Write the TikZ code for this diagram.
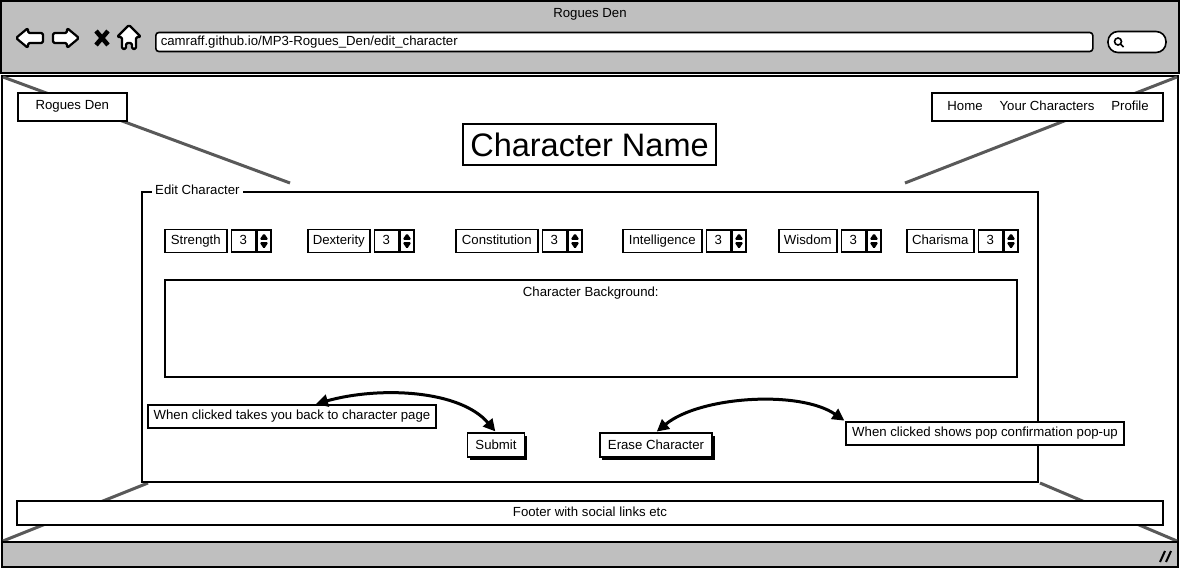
\documentclass[tikz,border=0pt]{standalone}
\usepackage{fontspec}
\setmainfont{Liberation Sans}
\usetikzlibrary{positioning,arrows.meta,shadows}

\begin{document}
\begin{tikzpicture} [
	x=1pt,y=-1pt,
	node distance=3pt,
	font=\fontsize{13.2}{16}\selectfont,
	bar/.style={
		draw=black,fill=black!25,line width=1.6pt},
	frame/.style={
		draw=black,line width=1.8pt},
	persp/.style={
		draw=black!65,line width=3pt},
	icon/.style={
		draw=black,fill=white,line width=2.2pt,
		rounded corners=1.5pt,line join=round},
	navbox/.style={
		rectangle,draw=black,fill=white,line width=1.6pt,
		minimum height=28pt},
	statbox/.style={
		rectangle,draw=black,fill=white,line width=1.6pt,
		minimum height=23pt,inner xsep=3pt,
		text height=9.5pt,text depth=3pt},
	numbox/.style={
		rectangle,draw=black,fill=white,line width=1.6pt,
		minimum height=22pt,minimum width=24pt,
		text height=9.5pt,text depth=3pt},
	spin/.style={
		rectangle,draw=black,fill=white,line width=1.6pt,
		minimum height=22pt,minimum width=14pt,
		path picture={
			\fill[black,shift={(path picture bounding box.center)},
				rounded corners=1.5pt]
				(-4.5,-1.2) -- (0,-8) -- (4.5,-1.2) -- cycle
				(-4.5,1.2) -- (0,8) -- (4.5,1.2) -- cycle;}},
	btn/.style={
		rectangle,draw=black,fill=white,line width=1.6pt,
		minimum height=24pt,inner xsep=8pt,
		drop shadow={shadow xshift=2.5pt,shadow yshift=-2.5pt,
			opacity=1,fill=black}},
	note/.style={
		rectangle,draw=black,fill=white,line width=1.6pt,
		minimum height=23pt,inner xsep=4pt},
	tip/.style={
		{Triangle[length=12pt,width=12pt]}-{Triangle[length=12pt,width=12pt]},
		line width=3pt,shorten <=1pt,shorten >=1pt}]
\useasboundingbox (0,0) rectangle (1180,570);

% browser chrome
\draw[bar] (1,1) rectangle (1179,73);
\node (wintitle) at (590,14) {Rogues Den};
\draw[icon] (16,38) -- (28,28) -- (28,33) -- (43,33) -- (43,43) -- (28,43) -- (28,48) -- cycle;
\draw[icon] (53,33) -- (67,33) -- (67,28) -- (79,38) -- (67,48) -- (67,43) -- (53,43) -- cycle;
\draw[line width=4.5pt] (96,31) -- (108,45) (108,31) -- (96,45);
\draw[icon] (129,25) -- (141,37) -- (136,37) -- (136,49) -- (132,49) -- (132,43) -- (126,43)
	-- (126,49) -- (122,49) -- (122,37) -- (117,37) -- cycle;
\node[draw=black,fill=white,line width=1.6pt,rounded corners=3pt,
	minimum height=18pt,text width=927pt,inner xsep=5pt,align=left,anchor=west]
	(url) at (155,42) {camraff.github.io/MP3-Rogues\_Den/edit\_character};
\node[draw=black,fill=white,line width=1.6pt,rounded corners=10pt,
	minimum width=58pt,minimum height=21pt] (search) at (1137,42) {};
\draw[line width=1.6pt] (1118,41.5) circle (3.5pt) (1120.5,44) -- (1123.5,47);

% page
\draw[frame] (2,76) rectangle (1178,542);
\draw[persp] (3,77) -- (290,183);
\draw[persp] (1177,77) -- (905,183);
\draw[persp] (148,483) -- (3,541);
\draw[persp] (1040,483) -- (1177,541);
\draw[bar] (2,542) rectangle (1178,567);
\draw[line width=2pt] (1160,562) -- (1165,551) (1166,562) -- (1171,551);

% header
\node[navbox,minimum width=109pt,anchor=north west] (brand) at (17,92) {Rogues Den};
\node[navbox,minimum width=231pt,anchor=north west] (menu) at (931,92) {};
\node (home) at (965,106) {Home};
\node (chars) at (1047,106) {Your Characters};
\node (profile) at (1130,106) {Profile};
\node[draw=black,fill=white,line width=1.6pt,minimum width=253pt,minimum height=41pt,
	font=\fontsize{32.5}{36}\selectfont] (charname) at (589.5,144.5) {Character Name};

% form
\draw[frame] (142,192) rectangle (1038,482);
\node[fill=white,inner xsep=3pt,inner ysep=1pt,anchor=west] (legend) at (152,190) {Edit Character};

\node[statbox,minimum width=62pt,anchor=west] (str) at (164,241) {Strength};
\node[numbox,right=of str] (strval) {3};
\node[spin,right=0pt of strval] (strspin) {};
\node[statbox,minimum width=62pt,anchor=west] (dex) at (307,241) {Dexterity};
\node[numbox,right=of dex] (dexval) {3};
\node[spin,right=0pt of dexval] (dexspin) {};
\node[statbox,minimum width=82pt,anchor=west] (con) at (455,241) {Constitution};
\node[numbox,right=of con] (conval) {3};
\node[spin,right=0pt of conval] (conspin) {};
\node[statbox,minimum width=79pt,anchor=west] (int) at (622,241) {Intelligence};
\node[numbox,right=of int] (intval) {3};
\node[spin,right=0pt of intval] (intspin) {};
\node[statbox,minimum width=58pt,anchor=west] (wis) at (778,241) {Wisdom};
\node[numbox,right=of wis] (wisval) {3};
\node[spin,right=0pt of wisval] (wisspin) {};
\node[statbox,minimum width=67pt,anchor=west] (cha) at (906,241) {Charisma};
\node[numbox,right=of cha] (chaval) {3};
\node[spin,right=0pt of chaval] (chaspin) {};

\node[statbox,minimum width=852pt,minimum height=97pt,anchor=north west] (backstory) at (164,279) {};
\node[below=4pt of backstory.north] (backlabel) {Character Background:};

\node[note,minimum width=288pt] (backnote) at (292,416.5) {When clicked takes you back to character page};
\node[btn] (submit) at (496,445) {Submit};
\node[btn] (erase) at (656,445) {Erase Character};
\node[note,minimum width=278pt] (erasenote) at (985,433.5) {When clicked shows pop confirmation pop-up};
\draw[tip] ([xshift=23pt]backnote.north) .. controls (380,386) and (460,390) .. (submit.north);
\draw[tip] (erase.north) .. controls (700,396) and (800,390) .. (erasenote.north west);

% footer
\node[statbox,minimum width=1146pt,minimum height=24pt] (footer) at (590,513) {Footer with social links etc};
\end{tikzpicture}
\end{document}
